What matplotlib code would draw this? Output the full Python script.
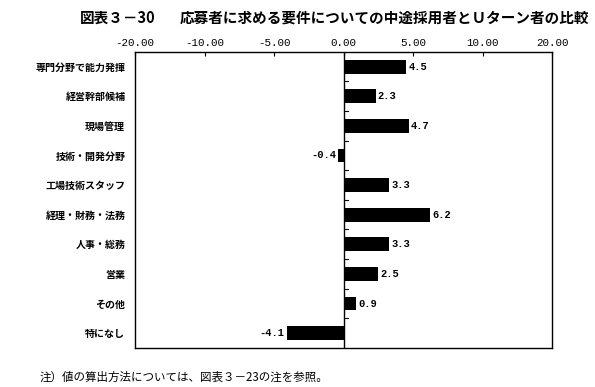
import matplotlib
matplotlib.use("Agg")
import matplotlib.pyplot as plt
import numpy as np

plt.rcParams['font.family'] = ['Noto Sans CJK JP', 'DejaVu Sans']

# categories, top to bottom
categories = ['専門分野で能力発揮', '経営幹部候補', '現場管理', '技術・開発分野',
              '工場技術スタッフ', '経理・財務・法務', '人事・総務', '営業', 'その他', '特になし']
values = [4.5, 2.3, 4.7, -0.4, 3.3, 6.2, 3.3, 2.5, 0.9, -4.1]

# top axis: tick positions and the labels printed on them
tick_pos = [-15, -10, -5, 0, 5, 10, 15]
tick_labels = ['-20.00', '-10.00', '-5.00', '0.00', '5.00', '10.00', '20.00']

fig = plt.figure(figsize=(5.95, 3.87), dpi=100)
ax = fig.add_axes([0.227, 0.101, 0.701, 0.765])

y = np.arange(len(categories))
ax.barh(y, values, height=0.47, color='black')

for yi, v in zip(y, values):
    if v >= 0:
        ax.text(v + 0.15, yi, f'{v:.1f}', ha='left', va='center',
                fontsize=7.5, family='Liberation Mono', fontweight='bold')
    else:
        ax.text(v - 0.15, yi, f'{v:.1f}', ha='right', va='center',
                fontsize=7.5, family='Liberation Mono', fontweight='bold')

ax.set_xlim(-15, 15)
ax.set_ylim(len(categories) - 0.5, -0.5)

ax.xaxis.tick_top()
ax.set_xticks(tick_pos)
ax.set_xticklabels(tick_labels, family='Liberation Mono', fontsize=7.8)
ax.tick_params(axis='x', direction='in', length=3, width=0.8, pad=3)

ax.set_yticks(y)
ax.set_yticklabels(categories, fontsize=7.2, fontweight='bold')
ax.tick_params(axis='y', length=0, pad=7)

# zero line with small ticks between categories
ax.axvline(0, color='black', lw=1)
for b in np.arange(0.5, len(categories) - 0.5, 1):
    ax.plot([0, 0.3], [b, b], color='black', lw=0.8)

for s in ax.spines.values():
    s.set_linewidth(1)

fig.text(0.135, 0.955, '図表３－30', fontsize=10.5, fontweight='bold', va='center')
fig.text(0.302, 0.955, '応募者に求める要件についての中途採用者とＵターン者の比較',
         fontsize=10.5, fontweight='bold', va='center')
fig.text(0.067, 0.025, '注）値の算出方法については、図表３－23の注を参照。', fontsize=8.3, va='center')

fig.savefig('out.png', dpi=100)
